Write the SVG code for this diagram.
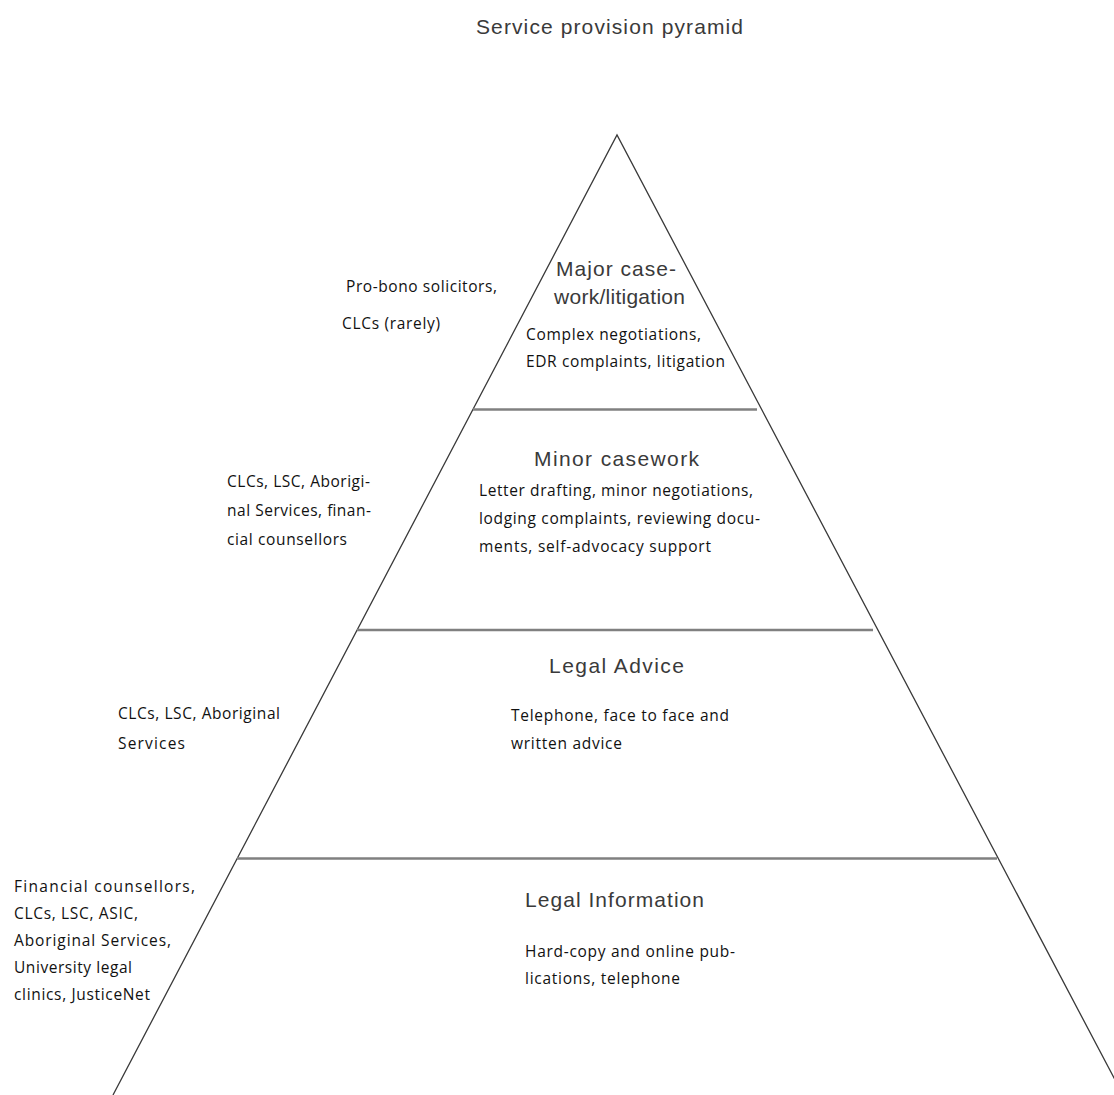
<svg xmlns="http://www.w3.org/2000/svg" width="1114" height="1095" viewBox="0 0 1114 1095">
<style>
.edge{fill:none;stroke:#3a3a3a;stroke-width:1.3}
.div{stroke:#808080;stroke-width:2.5}
.h{font-family:"Liberation Sans",Arial,sans-serif;font-size:21px;fill:#3a3a3a}
.s{font-family:"Open Sans","Liberation Sans",sans-serif;font-size:15.5px;fill:#111}
</style>
<rect width="1114" height="1095" fill="#fff"/>
<text class="h" x="476" y="34" textLength="267" lengthAdjust="spacing">Service provision pyramid</text>
<g id="connectors">
<path class="edge" d="M113,1095 L617,135 L1123,1095"/>
<line class="div" x1="473" y1="409.5" x2="757" y2="409.5"/>
<line class="div" x1="357" y1="630" x2="873" y2="630"/>
<line class="div" x1="237" y1="858.5" x2="997" y2="858.5"/>
</g>
<g id="tier-major">
<text class="h" x="556" y="276" textLength="120" lengthAdjust="spacing">Major case-</text>
<text class="h" x="554" y="304" textLength="131" lengthAdjust="spacing">work/litigation</text>
<text class="s" x="526" y="340" textLength="175" lengthAdjust="spacing">Complex negotiations,</text>
<text class="s" x="526" y="367" textLength="199" lengthAdjust="spacing">EDR complaints, litigation</text>
<text class="s" x="346" y="292" textLength="151" lengthAdjust="spacing">Pro-bono solicitors,</text>
<text class="s" x="342" y="329" textLength="98" lengthAdjust="spacing">CLCs (rarely)</text>
</g>
<g id="tier-minor">
<text class="h" x="534" y="466" textLength="165" lengthAdjust="spacing">Minor casework</text>
<text class="s" x="479" y="496" textLength="274" lengthAdjust="spacing">Letter drafting, minor negotiations,</text>
<text class="s" x="479" y="524" textLength="281" lengthAdjust="spacing">lodging complaints, reviewing docu-</text>
<text class="s" x="479" y="552" textLength="232" lengthAdjust="spacing">ments, self-advocacy support</text>
<text class="s" x="227" y="487" textLength="143" lengthAdjust="spacing">CLCs, LSC, Aborigi-</text>
<text class="s" x="227" y="516" textLength="144" lengthAdjust="spacing">nal Services, finan-</text>
<text class="s" x="227" y="545" textLength="120" lengthAdjust="spacing">cial counsellors</text>
</g>
<g id="tier-advice">
<text class="h" x="549" y="673" textLength="135" lengthAdjust="spacing">Legal Advice</text>
<text class="s" x="511" y="721" textLength="218" lengthAdjust="spacing">Telephone, face to face and</text>
<text class="s" x="511" y="749" textLength="111" lengthAdjust="spacing">written advice</text>
<text class="s" x="118" y="719" textLength="162" lengthAdjust="spacing">CLCs, LSC, Aboriginal</text>
<text class="s" x="118" y="749" textLength="67" lengthAdjust="spacing">Services</text>
</g>
<g id="tier-information">
<text class="h" x="525" y="907" textLength="179" lengthAdjust="spacing">Legal Information</text>
<text class="s" x="525" y="957" textLength="210" lengthAdjust="spacing">Hard-copy and online pub-</text>
<text class="s" x="525" y="984" textLength="155" lengthAdjust="spacing">lications, telephone</text>
<text class="s" x="14" y="892" textLength="181" lengthAdjust="spacing">Financial counsellors,</text>
<text class="s" x="14" y="919" textLength="124" lengthAdjust="spacing">CLCs, LSC, ASIC,</text>
<text class="s" x="14" y="946" textLength="157" lengthAdjust="spacing">Aboriginal Services,</text>
<text class="s" x="14" y="973" textLength="118" lengthAdjust="spacing">University legal</text>
<text class="s" x="14" y="1000" textLength="136" lengthAdjust="spacing">clinics, JusticeNet</text>
</g>
</svg>
